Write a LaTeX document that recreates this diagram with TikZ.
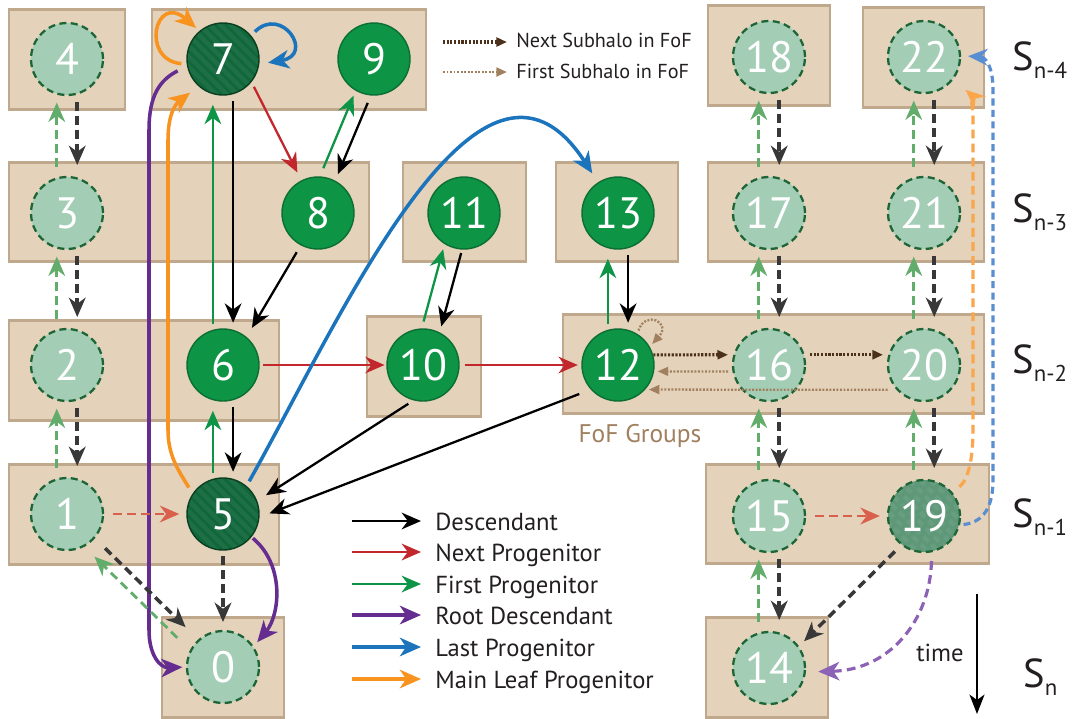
\documentclass[tikz,border=0pt]{standalone}
\usepackage{fontspec}
\setmainfont{PT Sans}
\usetikzlibrary{arrows.meta}

\definecolor{boxfill}{HTML}{E4D2BA}
\definecolor{boxline}{HTML}{C0A88C}
\definecolor{ghostfill}{HTML}{A3CDB5}
\definecolor{ghostline}{HTML}{1D6536}
\definecolor{subfill}{HTML}{0E9445}
\definecolor{subline}{HTML}{0B6E33}
\definecolor{mainfill}{HTML}{10673A}
\definecolor{mainline}{HTML}{093F20}
\definecolor{midfill}{HTML}{5E9878}
\definecolor{nprogC}{HTML}{C1272D}
\definecolor{fprogC}{HTML}{0E9447}
\definecolor{rootC}{HTML}{662D91}
\definecolor{lastC}{HTML}{1C75BC}
\definecolor{leafC}{HTML}{F7931E}
\definecolor{descD}{HTML}{383838}
\definecolor{nprogD}{HTML}{D8604C}
\definecolor{fprogD}{HTML}{62AD6B}
\definecolor{rootD}{HTML}{8C62B6}
\definecolor{lastD}{HTML}{5A8ED2}
\definecolor{leafD}{HTML}{F9A64C}
\definecolor{nextC}{HTML}{4B301C}
\definecolor{firstC}{HTML}{A0805E}
\definecolor{inkC}{HTML}{231F20}

\newcommand\snlab[1]{{\fontsize{23}{23}\selectfont S}\raisebox{-5pt}{\fontsize{13}{13}\selectfont #1}}

\tikzset{
  stripes/.style={path picture={\foreach \k in {-7,...,7}
    \draw[white,opacity=0.06,line width=2.5pt] ([xshift=\k*6pt]path picture bounding box.north west) -- ++(45pt,-45pt);}},
}

\begin{document}
\begin{tikzpicture}[x=0.02cm,y=-0.02cm,
  snap/.style={fill=boxfill,draw=boxline,line width=1.7pt},
  halo/.style={circle,minimum size=1.44cm,inner sep=0pt,text=white,font=\fontsize{25}{25}\selectfont},
  ghost/.style={halo,fill=ghostfill,draw=ghostline,line width=1.3pt,dash pattern=on 4pt off 2.5pt},
  sub/.style={halo,fill=subfill,draw=subline,line width=0.8pt},
  main/.style={halo,fill=mainfill,draw=mainline,line width=0.8pt,stripes},
  mid/.style={ghost,fill=midfill,stripes},
  tipS/.style={-{Stealth[length=11pt,width=9.5pt,inset=3.5pt]}},
  tipL/.style={-{Stealth[length=12pt,width=10.5pt,inset=3.5pt]}},
  desc/.style={tipS,black,line width=1.3pt},
  nprog/.style={tipS,nprogC,line width=1.3pt},
  fprog/.style={tipS,fprogC,line width=1.3pt},
  root/.style={tipL,rootC,line width=2pt},
  lastp/.style={tipL,lastC,line width=2pt},
  mleaf/.style={tipL,leafC,line width=2pt},
  descd/.style={tipS,descD,line width=2pt,dash pattern=on 5pt off 3pt},
  nprogd/.style={tipS,nprogD,line width=1.5pt,dash pattern=on 5pt off 3pt},
  fprogd/.style={tipS,fprogD,line width=1.6pt,dash pattern=on 5pt off 3pt},
  rootd/.style={tipL,rootD,line width=1.8pt,dash pattern=on 5pt off 3pt},
  lastd/.style={tipS,lastD,line width=1.8pt,dash pattern=on 4pt off 2.5pt},
  mleafd/.style={tipS,leafD,line width=1.8pt,dash pattern=on 5pt off 3pt},
  nextsub/.style={-{Triangle[length=6pt,width=5pt]},nextC,line width=1.8pt,dash pattern=on 1.2pt off 0.9pt},
  firstsub/.style={-{Triangle[length=6pt,width=5pt]},firstC,line width=1.3pt,dash pattern=on 1.1pt off 0.9pt},
  legtext/.style={anchor=base west,inner sep=0pt,text=inkC,font=\fontsize{14}{14}\selectfont},
]
\useasboundingbox (0,0) rectangle (1073,718);

% snapshot boxes
\foreach \xa/\ya/\xb/\yb in {9/9/125/109, 152/9/426/109, 708/5/830/105, 863/7/984/107,
  9/162/369/261, 403/162/526/261, 556/162/678/261, 708/162/984/261,
  9/320/279/420, 367/316/481/416, 563/314/984/413,
  9/464/279/564, 706/464/989/563, 162/617/284/717, 706/617/828/717}
  \draw[snap] (\xa,\ya) rectangle (\xb,\yb);

% haloes
\node[ghost] (c4) at (67,59) {4};
\node[main] (c7) at (223,59) {7};
\node[sub] (c9) at (374,59) {9};
\node[ghost] (c18) at (769,57) {18};
\node[ghost] (c22) at (924,57) {22};
\node[ghost] (c3) at (67,213) {3};
\node[sub] (c8) at (318,213) {8};
\node[sub] (c11) at (464,213) {11};
\node[sub] (c13) at (618,213) {13};
\node[ghost] (c17) at (769,213) {17};
\node[ghost] (c21) at (924,213) {21};
\node[ghost] (c2) at (67,365) {2};
\node[sub] (c6) at (223,365) {6};
\node[sub] (c10) at (423,365) {10};
\node[sub] (c12) at (618,365) {12};
\node[ghost] (c16) at (769,365) {16};
\node[ghost] (c20) at (924,365) {20};
\node[ghost] (c1) at (67,514) {1};
\node[main] (c5) at (223,514) {5};
\node[ghost] (c15) at (769,516) {15};
\node[mid] (c19) at (924,516) {19};
\node[ghost] (c0) at (223,667) {0};
\node[ghost] (c14) at (769,668) {14};

% tree links
\foreach \a/\b in {7/6,6/5,13/12}{
  \draw[desc,shorten <=4pt,shorten >=4pt] (c\a.-74) -- (c\b.74);
  \draw[fprog,shorten <=3pt,shorten >=6pt] (c\b.106) -- (c\a.-106);
}
\foreach \a/\b in {4/3,3/2,2/1,18/17,17/16,16/15,15/14,22/21,21/20,20/19}{
  \draw[descd,shorten <=4pt,shorten >=7pt] (c\a.-74) -- (c\b.74);
  \draw[fprogd,shorten <=6pt,shorten >=4.5pt] (c\b.106) -- (c\a.-106);
}
\draw[nprog,shorten <=3pt,shorten >=5pt] (c7.-39) -- (c8.117);
\draw[fprog,shorten <=5pt,shorten >=3pt] (c8.87) -- (c9.240);
\draw[desc,shorten <=4.5pt,shorten >=4pt] (c9.265) -- (c8.62);
\draw[desc,shorten <=4.5pt,shorten >=6pt] (c8.242) -- (c6.50);
\draw[nprog,shorten <=2pt,shorten >=1pt] (c6.east) -- (c10.west);
\draw[nprog,shorten <=3pt,shorten >=2pt] (c10.east) -- (c12.west);
\draw[fprog,shorten <=4pt,shorten >=3pt] (c10.92) -- (c11.238);
\draw[desc,shorten <=2pt,shorten >=3.5pt] (c11.267) -- (c10.63);
\draw[desc,shorten <=3.5pt,shorten >=6pt] (c10.255) -- (c5.21);
\draw[desc,shorten <=7pt,shorten >=6pt] (c12.222) -- (c5.-5);
\draw[root,shorten <=1pt,shorten >=3pt] (c5.-39) .. controls (285,565) and (280,615) .. (c0.34);
\draw[root,shorten <=6pt,shorten >=2pt] (c7.191) .. controls (160,80) and (149,95) .. (149,130)
  -- (149,630) .. controls (149,655) and (160,668) .. (c0.180);
\draw[mleaf,shorten <=4pt,shorten >=6pt] (c5.146) .. controls (178,470) and (168,455) .. (168,430)
  -- (168,140) .. controls (168,110) and (178,102) .. (c7.228);
\draw[mleaf,shorten <=3pt,shorten >=2.5pt] (c7.188) .. controls (140,60) and (155,-8) .. (c7.130);
\draw[lastp,shorten <=3pt,shorten >=5pt] (c7.40) .. controls (282,5) and (315,55) .. (c7.-8);
\draw[lastp,shorten <=3pt,shorten >=6pt] (c5.50) .. controls (340,320) and (480,0) .. (c13.123);

% orphan links
\draw[nprogd,shorten <=5pt,shorten >=4pt] (c1.east) -- (c5.west);
\draw[nprogd,shorten <=5pt,shorten >=4pt] (c15.east) -- (c19.west);
\draw[descd,shorten <=3pt,shorten >=4.5pt] (c5.south) -- (c0.north);
\draw[descd,shorten <=8pt,shorten >=10pt] (c1.-41) -- (c0.132);
\draw[fprogd,shorten <=10pt,shorten >=8pt] (c0.153) -- (c1.-62);
\draw[descd,shorten <=5pt,shorten >=4pt] (c19.232) -- (c14.36);
\draw[rootd,shorten <=5pt,shorten >=7pt] (c19.282) .. controls (930,620) and (890,670) .. (c14.-6);
\draw[mleafd,shorten <=5pt,shorten >=9pt] (c19.40) .. controls (968,480) and (973,460) .. (973,430)
  -- (973,120) .. controls (973,100) and (968,92) .. (c22.-37);
\draw[lastd,shorten <=2pt,shorten >=4pt] (c19.-14) .. controls (985,522) and (993,505) .. (993,480)
  -- (993,90) .. controls (993,65) and (985,57) .. (c22.2);

% FoF links
\draw[nextsub,shorten >=3pt] (c12.16) -- (c16.164);
\draw[nextsub,shorten <=3pt,shorten >=3pt] (c16.16) -- (c20.164);
\draw[firstsub,shorten <=2.5pt,shorten >=2pt] (c16.190) -- (c12.-10);
\draw[firstsub,shorten <=5pt,shorten >=2pt] (c20.222) -- (c12.-42);
\draw[firstsub,shorten <=2pt,shorten >=2pt] (c12.58) .. controls (645,310) and (672,322) .. (c12.30);
\node[anchor=base,text=firstC,font=\fontsize{14.5}{14.5}\selectfont] (fof) at (640,442) {FoF Groups};

% legends
\coordinate (na) at (443,42); \coordinate (nb) at (507,42);
\coordinate (fa) at (443,72); \coordinate (fb) at (507,72);
\draw[nextsub] (na) -- (nb);
\draw[firstsub] (fa) -- (fb);
\node[legtext,font=\fontsize{11.5}{11.5}\selectfont] (nt) at (516,47) {Next Subhalo in FoF};
\node[legtext,font=\fontsize{11.5}{11.5}\selectfont] (ft) at (516,78) {First Subhalo in FoF};
\foreach \yy/\sty/\lbl [count=\i] in {521/desc/Descendant, 552/nprog/Next Progenitor,
  584/fprog/First Progenitor, 615/root/Root Descendant, 647/lastp/Last Progenitor,
  679/mleaf/Main Leaf Progenitor}{
  \coordinate (la\i) at (352,\yy);
  \coordinate (lb\i) at (421,\yy);
  \draw[\sty] (la\i) -- (lb\i);
  \node[legtext] (lt\i) at (435,\yy+9) {\lbl};
}

% snapshots and time
\node[anchor=base west,inner sep=0pt,text=inkC] (s4) at (1012,70) {\snlab{n-4}};
\node[anchor=base west,inner sep=0pt,text=inkC] (s3) at (1012,222) {\snlab{n-3}};
\node[anchor=base west,inner sep=0pt,text=inkC] (s2) at (1012,373) {\snlab{n-2}};
\node[anchor=base west,inner sep=0pt,text=inkC] (s1) at (1012,527) {\snlab{n-1}};
\node[anchor=base west,inner sep=0pt,text=inkC] (s0) at (1023,687) {\snlab{n}};
\coordinate (ta) at (977,594);
\coordinate (tb) at (977,714);
\draw[black,line width=1.4pt,-{Stealth[length=11pt,width=8.5pt,inset=3pt]}] (ta) -- (tb);
\node[text=inkC,font=\fontsize{14}{14}\selectfont] (tm) at (940,653) {time};
\end{tikzpicture}
\end{document}
